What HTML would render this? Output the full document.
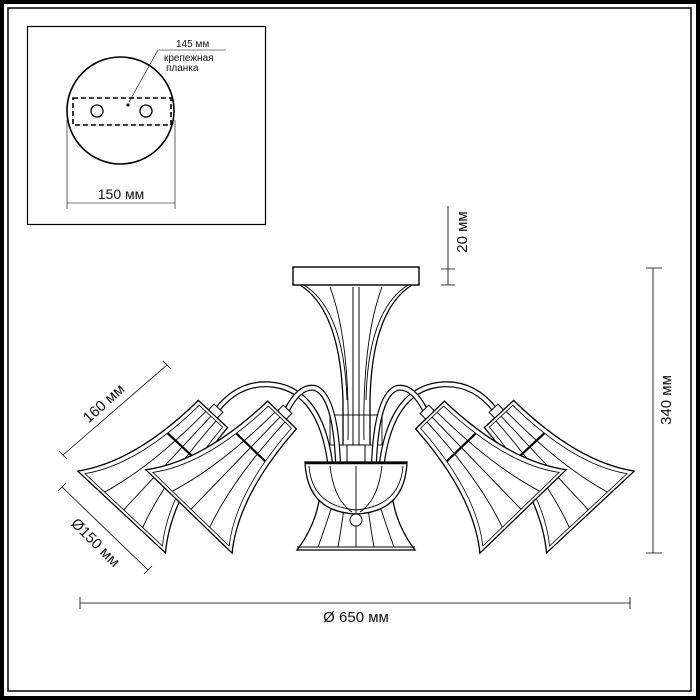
<!DOCTYPE html>
<html><head><meta charset="utf-8"><style>
html,body{margin:0;padding:0;background:#fff}
svg{display:block}
text{font-family:"Liberation Sans","DejaVu Sans",sans-serif;fill:#111}
</style></head><body>
<svg width="700" height="700" viewBox="0 0 700 700" xmlns="http://www.w3.org/2000/svg">
<defs>
<g id="shade">
 <path d="M-20,0 L20,0 Q24,88 60,134 L-60,134 Q-24,88 -20,0 Z" fill="#fff" stroke="#000" stroke-width="1.3"/>
 <path d="M-16,3 L16,3 Q20,88 53,131 L-53,131 Q-20,88 -16,3 Z" fill="none" stroke="#000" stroke-width="0.8"/>
 <path d="M-7,3 Q-9,80 -26,131 M0,3 L0,131 M7,3 Q9,80 26,131" fill="none" stroke="#000" stroke-width="0.9"/>
 <path d="M-20,45 L20,45" stroke="#000" stroke-width="2.2"/>
 <rect x="-6" y="-8" width="12" height="8" fill="#fff" stroke="#000" stroke-width="1"/>
</g>
</defs>
<rect x="2" y="2" width="696" height="696" fill="none" stroke="#000" stroke-width="4"/>
<rect x="8" y="8" width="683" height="683" fill="none" stroke="#000" stroke-width="1.5"/>

<!-- inset -->
<rect x="27.5" y="26.5" width="238" height="198" fill="none" stroke="#000" stroke-width="1.2"/>
<circle cx="120.5" cy="110.5" r="53.5" fill="none" stroke="#000" stroke-width="1.6"/>
<rect x="73" y="98" width="98" height="27" fill="none" stroke="#000" stroke-width="1.6" stroke-dasharray="5,3"/>
<circle cx="97" cy="111" r="6" fill="none" stroke="#000" stroke-width="1.3"/>
<circle cx="146" cy="111" r="6" fill="none" stroke="#000" stroke-width="1.3"/>
<circle cx="128" cy="105" r="1.6" fill="#000"/>
<path d="M129,102 L158,50 L226,50" fill="none" stroke="#000" stroke-width="0.6"/>
<text x="176" y="47" font-size="10">145 мм</text>
<text x="164" y="61" font-size="10">крепежная</text>
<text x="166" y="71" font-size="10">планка</text>
<path d="M67,120 L67,209 M175,120 L175,209 M67,203 L175,203" fill="none" stroke="#000" stroke-width="0.6"/>
<text x="121" y="199" font-size="14" text-anchor="middle">150 мм</text>

<!-- dimensions -->
<g stroke="#000" stroke-width="0.8" fill="none">
 <path d="M448,206 L448,285 M441,269 L455,269 M441,285 L455,285"/>
 <path d="M653,268 L653,553 M646,268 L662,268 M646,553 L662,553"/>
 <path d="M80,603 L630,603 M80,597 L80,609 M630,597 L630,609"/>
 <path d="M63,455 L167,365 M59,451 L67,459 M163,361 L171,369"/>
 <path d="M62,487 L148,570 M58,491 L66,483 M144,574 L152,566"/>
</g>
<text transform="translate(467,232) rotate(-90)" font-size="15" text-anchor="middle">20 мм</text>
<text transform="translate(671,400) rotate(-90)" font-size="15" text-anchor="middle">340 мм</text>
<text x="356" y="622" font-size="15" text-anchor="middle">Ø 650 мм</text>
<text transform="translate(107,407) rotate(-42)" font-size="15" text-anchor="middle">160 мм</text>
<text transform="translate(92,546) rotate(45)" font-size="15" text-anchor="middle">Ø150 мм</text>

<!-- canopy & stem -->
<rect x="293" y="267" width="126" height="18" fill="#fff" stroke="#000" stroke-width="1.4"/>
<path d="M300,285 Q340,310 343,400 L343,445 M412,285 Q372,310 370,400 L370,445" fill="none" stroke="#000" stroke-width="1.3"/>
<path d="M304,285 Q344,310 347,400 M408,285 Q368,310 366,400" fill="none" stroke="#000" stroke-width="0.9"/>
<path d="M330,287 Q350,340 348,440 M382,287 Q362,340 364,440" fill="none" stroke="#000" stroke-width="0.9"/>
<path d="M353,287 L353,445 M359,287 L359,445" fill="none" stroke="#000" stroke-width="1"/>
<rect x="330" y="415" width="52" height="30" fill="none" stroke="#000" stroke-width="0.9"/>
<path d="M347,445 L365,445 L365,462 L347,462 Z" fill="#fff" stroke="#000" stroke-width="1"/>

<!-- arms (tubes) -->
<g fill="none" stroke-linecap="butt">
 <path d="M217,410 Q240,380 275,385 Q320,392 330,462" stroke="#000" stroke-width="6"/>
 <path d="M217,410 Q240,380 275,385 Q320,392 330,462" stroke="#fff" stroke-width="3.6"/>
 <path d="M287,410 Q300,385 315,388 Q335,395 338,462" stroke="#000" stroke-width="6"/>
 <path d="M287,410 Q300,385 315,388 Q335,395 338,462" stroke="#fff" stroke-width="3.6"/>
 <path d="M495,410 Q472,380 437,385 Q392,392 382,462" stroke="#000" stroke-width="6"/>
 <path d="M495,410 Q472,380 437,385 Q392,392 382,462" stroke="#fff" stroke-width="3.6"/>
 <path d="M425,410 Q412,385 397,388 Q377,395 374,462" stroke="#000" stroke-width="6"/>
 <path d="M425,410 Q412,385 397,388 Q377,395 374,462" stroke="#fff" stroke-width="3.6"/>
</g>

<!-- side shades -->
<use href="#shade" transform="translate(213,414) rotate(43)"/>
<use href="#shade" transform="translate(499,414) rotate(-43)"/>
<use href="#shade" transform="translate(282,415) rotate(44)"/>
<use href="#shade" transform="translate(430,415) rotate(-44)"/>

<!-- center shade -->
<path d="M320,495 L392,495 Q396,525 415,550 L297,550 Q316,525 320,495 Z" fill="#fff" stroke="#000" stroke-width="1.3"/>
<path d="M297,547 L415,547" stroke="#000" stroke-width="0.9"/>
<path d="M334,500 Q326,525 318,547 M345,500 Q342,525 338,547 M356,500 L356,547 M367,500 Q370,525 374,547 M378,500 Q386,525 394,547" fill="none" stroke="#000" stroke-width="0.9"/>

<!-- bowl -->
<path d="M305,462 L407,462 Q405,512 356,514 Q307,512 305,462 Z" fill="#fff" stroke="#000" stroke-width="1.3"/>
<path d="M309,466 Q312,506 356,510 Q400,506 403,466" fill="none" stroke="#000" stroke-width="0.9"/>
<path d="M305,463 L407,463" stroke="#000" stroke-width="2.5"/>
<path d="M330,466 Q334,500 352,512 M382,466 Q378,500 360,512 M356,466 L356,514" fill="none" stroke="#000" stroke-width="0.9"/>
<circle cx="356" cy="520" r="6" fill="#fff" stroke="#000" stroke-width="1"/>
</svg>
</body></html>
